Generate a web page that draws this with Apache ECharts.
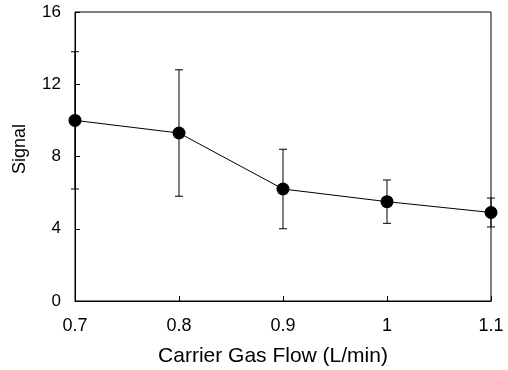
<!DOCTYPE html>
<html>
<head>
<meta charset="utf-8">
<script src="https://cdn.jsdelivr.net/npm/echarts@6/dist/echarts.min.js"></script>
<style>html,body{margin:0;padding:0;background:#fff;}#c{width:508px;height:370px;}</style>
</head>
<body>
<div id="c"></div>
<script>
var flows = [0.7, 0.8, 0.9, 1.0, 1.1];
var signal = [10.0, 9.3, 6.2, 5.5, 4.9];
var errors = [3.8, 3.5, 2.2, 1.2, 0.8];
var yTicks = [0, 4, 8, 12, 16];
var xTitle = 'Carrier Gas Flow (L/min)';
var yTitle = 'Signal';

var pts = flows.map(function (f, i) { return [f, signal[i]]; });
var bars = flows.map(function (f, i) { return [f, signal[i] - errors[i], signal[i] + errors[i]]; });
var font = 'Liberation Sans, Arial, sans-serif';

var chart = echarts.init(document.getElementById('c'), null, {renderer: 'canvas'});
chart.setOption({
  animation: false,
  grid: {left: 75, right: 17, top: 12, bottom: 69, show: true, borderColor: '#000', borderWidth: 1, backgroundColor: 'transparent'},
  graphic: [
    {type: 'text', x: 273, y: 356, style: {text: xTitle, font: '21px ' + font, fill: '#000', align: 'center', verticalAlign: 'middle'}},
    {type: 'text', x: 20, y: 149, rotation: Math.PI / 2, style: {text: yTitle, font: '18px ' + font, fill: '#000', align: 'center', verticalAlign: 'middle'}}
  ],
  xAxis: {
    type: 'value', min: 0.7, max: 1.1, interval: 0.1,
    axisLine: {show: true, onZero: false, lineStyle: {color: '#000', width: 1}},
    axisTick: {show: true, inside: true, length: 5, lineStyle: {color: '#000'}},
    axisLabel: {fontFamily: font, fontSize: 18, color: '#000', margin: 16,
      formatter: function (v) { return String(Math.round(v * 10) / 10); }},
    splitLine: {show: false}
  },
  yAxis: {
    type: 'value', min: yTicks[0], max: yTicks[yTicks.length - 1], interval: 4,
    axisLine: {show: true, lineStyle: {color: '#000', width: 1}},
    axisTick: {show: true, inside: true, length: 5, lineStyle: {color: '#000'}},
    axisLabel: {fontFamily: font, fontSize: 17, color: '#000', margin: 14},
    splitLine: {show: false}
  },
  series: [
    {
      type: 'custom',
      data: bars,
      z: 1,
      renderItem: function (params, api) {
        var x = api.value(0);
        var lo = api.coord([x, api.value(1)]);
        var hi = api.coord([x, api.value(2)]);
        var w = 4;
        var st = {stroke: '#000', lineWidth: 1};
        return {
          type: 'group',
          children: [
            {type: 'line', shape: {x1: lo[0], y1: lo[1], x2: hi[0], y2: hi[1]}, style: st},
            {type: 'line', shape: {x1: lo[0] - w, y1: lo[1], x2: lo[0] + w, y2: lo[1]}, style: st},
            {type: 'line', shape: {x1: hi[0] - w, y1: hi[1], x2: hi[0] + w, y2: hi[1]}, style: st}
          ]
        };
      }
    },
    {
      type: 'line',
      data: pts,
      z: 3,
      symbol: 'circle',
      symbolSize: 13,
      lineStyle: {color: '#000', width: 1},
      itemStyle: {color: '#000', borderWidth: 0}
    }
  ]
});
</script>
</body>
</html>
